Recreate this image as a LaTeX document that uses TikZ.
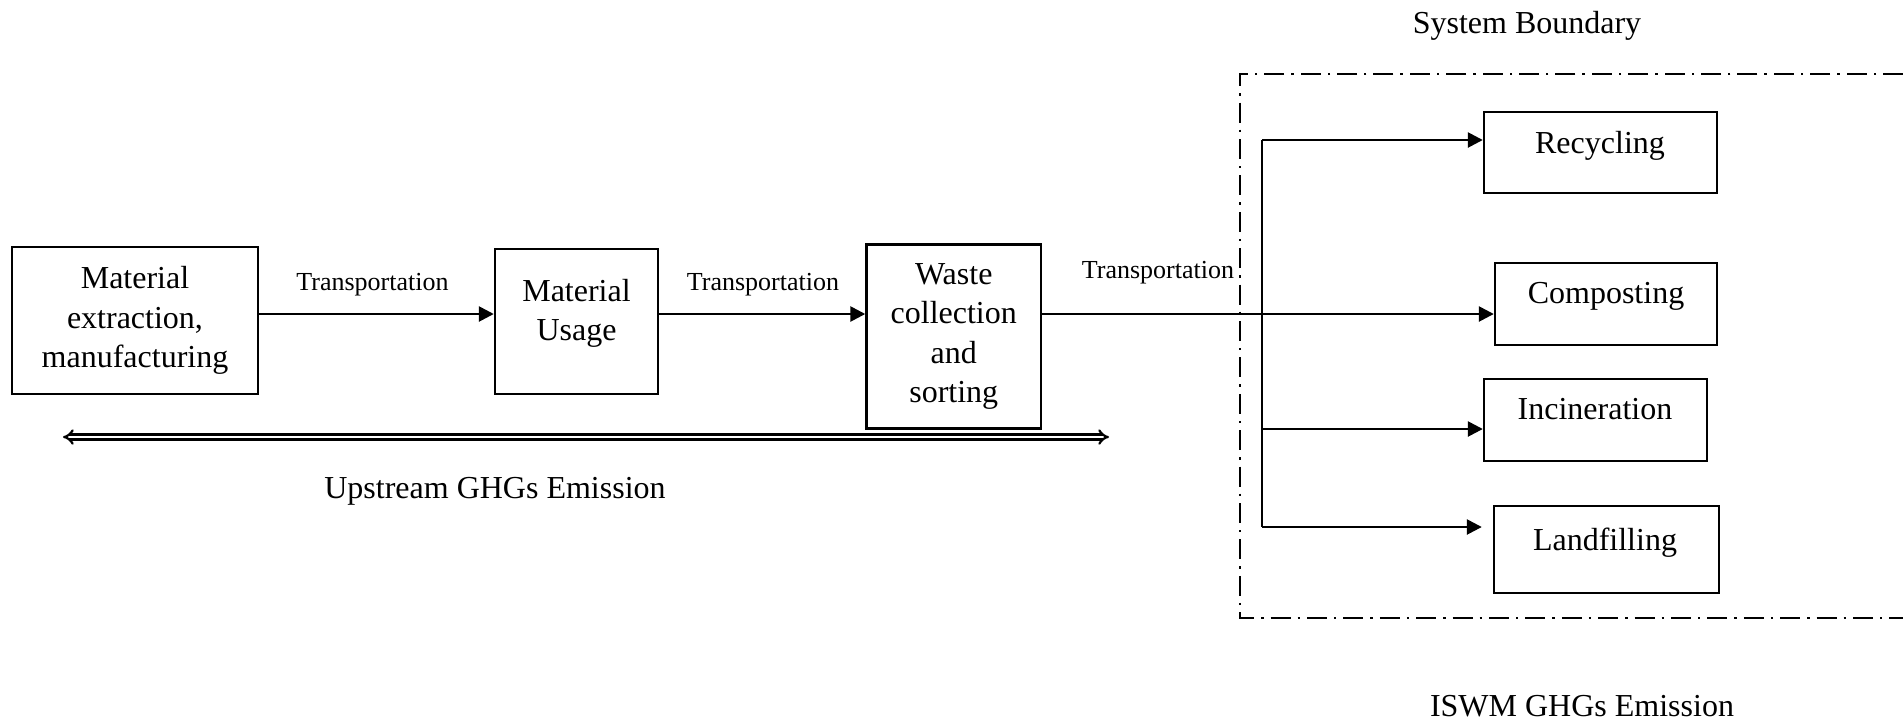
\documentclass[tikz,border=0pt]{standalone}
\usepackage{fontspec}
\setmainfont{Liberation Serif}
\usetikzlibrary{arrows.meta,calc}
\begin{document}
\begin{tikzpicture}[x=0.5pt,y=-0.5pt,
  box/.style={draw,line width=1.2pt,inner sep=0pt,align=center,font=\fontsize{16}{19.6}\selectfont},
  txt/.style={inner sep=0pt,align=center,font=\fontsize{16}{19.6}\selectfont},
  lbl/.style={inner sep=0pt,font=\fontsize{13}{15}\selectfont},
  arr/.style={line width=1.3pt,-{Triangle[length=7.5pt,width=7.5pt]}},
  trunk/.style={line width=1.3pt},
  bound/.style={line width=1.1pt,dash pattern=on 10pt off 3.5pt on 1.2pt off 3.5pt},
  dbl/.style={double,line width=1.1pt,double distance=1.4pt,{Implies}-{Implies}}]
\useasboundingbox (0,0) rectangle (1903,724);

% upstream chain
\node[box,minimum width=123pt,minimum height=73.5pt] (b1) at (135,320.5) {Material\\extraction,\\manufacturing};
\node[box,minimum width=81.5pt,minimum height=72.5pt] (b2) at (576.5,321.5) {};
\node[txt] (t2) at (576.5,313) {Material\\Usage};
\node[box,minimum width=87.25pt,minimum height=92pt] (b3) at (953.75,336.5) {Waste\\collection\\and\\sorting};

% treatment boxes
\node[box,minimum width=116.5pt,minimum height=40.5pt] (rec) at (1600.5,152.5) {};
\node[box,minimum width=111pt,minimum height=41pt] (com) at (1606,304) {};
\node[box,minimum width=111.5pt,minimum height=41pt] (inc) at (1595.5,420) {};
\node[box,minimum width=112.5pt,minimum height=43.5pt] (lan) at (1606.5,549.5) {};
\node[txt,anchor=base] (trec) at (1600,153) {Recycling};
\node[txt,anchor=base] (tcom) at (1606,303) {Composting};
\node[txt,anchor=base] (tinc) at (1595,419) {Incineration};
\node[txt,anchor=base] (tlan) at (1605,550) {Landfilling};

% connectors
\coordinate (ml) at (0,314);
\coordinate (ttop) at (1262,140);
\coordinate (tmid) at (1262,429);
\coordinate (tbot) at (1262,527);
\draw[arr] (b1.east |- ml) -- (b2.west |- ml);
\draw[arr] (b2.east |- ml) -- (b3.west |- ml);
\draw[arr] (b3.east |- ml) -- (com.west |- ml);
\draw[trunk] (ttop) -- (tbot);
\draw[arr] (ttop) -- (rec.west |- ttop);
\draw[arr] (tmid) -- (inc.west |- tmid);
\draw[arr] (tbot) -- ($(lan.west |- tbot)+(-11,0)$);

% labels
\node[lbl,anchor=base] (l1) at (372.5,290) {Transportation};
\node[lbl,anchor=base] (l2) at (763,290) {Transportation};
\node[lbl,anchor=base] (l3) at (1158,278) {Transportation};

% upstream emission
\coordinate (ul) at (63,437);
\coordinate (ur) at (1109,437);
\draw[dbl] (ul) -- (ur);
\node[txt,anchor=base] (up) at (495,498) {Upstream GHGs Emission};

% system boundary
\coordinate (bTR) at (1903,74);
\coordinate (bTL) at (1240,74);
\coordinate (bBL) at (1240,618);
\coordinate (bBR) at (1903,618);
\draw[bound] (bTR) -- (bTL) -- (bBL) -- (bBR);
\node[txt,anchor=base] (sb) at (1527,33) {System Boundary};
\node[txt,anchor=base] (iswm) at (1582,716) {ISWM GHGs Emission};
\end{tikzpicture}
\end{document}
